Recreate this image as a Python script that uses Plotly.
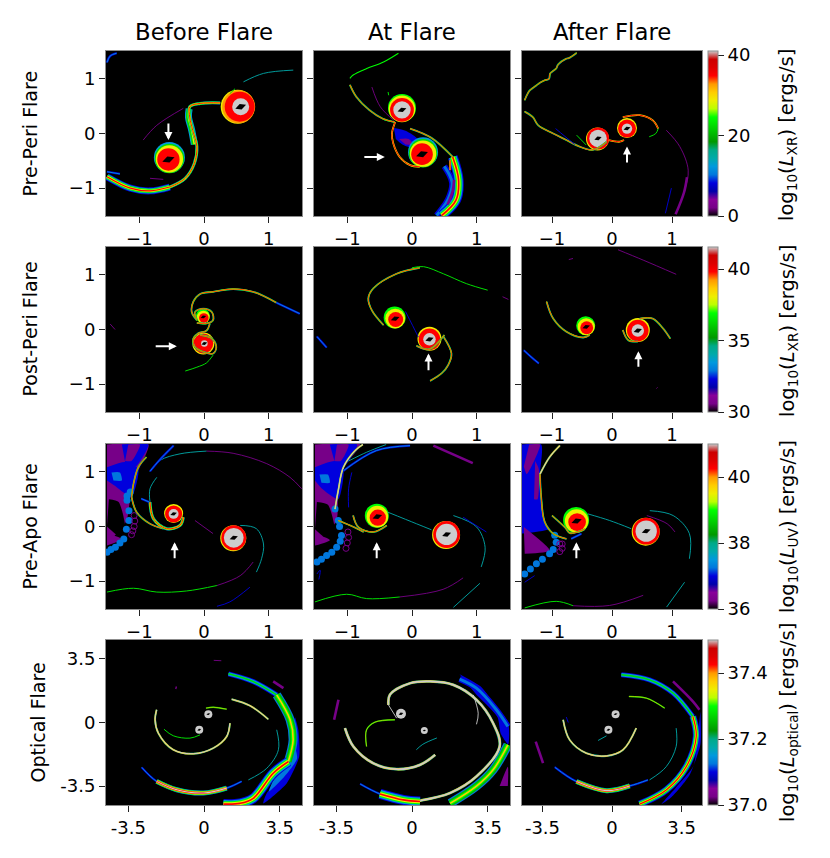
import plotly.graph_objects as go

W, H = 830, 858
FONT = "DejaVu Sans"

col_px = [(106, 302), (314, 510), (522, 702)]
row_px = [(51, 216), (247, 412), (444, 609), (640, 805)]
col_titles = ["Before Flare", "At Flare", "After Flare"]
row_titles = ["Pre-Peri Flare", "Post-Peri Flare", "Pre-Apo Flare", "Optical Flare"]
cbar_ranges = [(0, 41), (30, 41.55), (36, 41), (37, 37.5)]
cbar_ticks = [[0, 20, 40], [30, 35, 40], [36, 38, 40], [37.0, 37.2, 37.4]]
cbar_ticktext = [["0", "20", "40"], ["30", "35", "40"], ["36", "38", "40"], ["37.0", "37.2", "37.4"]]
cbar_names = ["XR", "XR", "UV", "optical"]

# nipy_spectral with the grey top
spectral = [
    (0.00, "#000000"), (0.05, "#770088"), (0.10, "#880099"), (0.15, "#0000aa"), (0.20, "#0000dd"),
    (0.25, "#0077dd"), (0.30, "#0099dd"), (0.35, "#00aaaa"), (0.40, "#00aa88"), (0.45, "#009900"),
    (0.50, "#00bb00"), (0.55, "#00dd00"), (0.60, "#00ff00"), (0.65, "#bbff00"), (0.70, "#eeee00"),
    (0.75, "#ffcc00"), (0.80, "#ff9900"), (0.85, "#ff0000"), (0.90, "#dd0000"), (0.95, "#cc0000"),
    (1.00, "#cccccc"),
]

def col(level):
    return min(spectral, key=lambda s: abs(s[0] - level))[1]

STYLES = {
    "pur": [(0.9, 0.07)],
    "purw": [(2.6, 0.07)],
    "blu": [(0.9, 0.2)],
    "bluw": [(2.2, 0.2), (0.9, 0.3)],
    "teal": [(0.9, 0.35)],
    "grn": [(1.0, 0.55)],
    "lim": [(1.1, 0.62)],
    "thin": [(1.3, 0.55), (0.6, 0.75)],
    "rb": [(1.8, 0.35), (1.4, 0.6), (1.0, 0.75), (0.6, 0.87)],
    "rbw": [(3.0, 0.3), (2.4, 0.58), (1.6, 0.72), (0.9, 0.87)],
    "red": [(1.8, 0.72), (1.0, 0.87)],
    "gry": [(1.9, 0.4), (1.5, 0.75), (1.0, 1.0)],
    "gryw": [(2.8, 0.35), (2.3, 0.75), (1.7, 1.0)],
    "gryt": [(0.9, 1.0)],
    "sband": [(7.0, 0.3), (5.0, 0.55), (1.6, 0.72)],
    "band": [(7.0, 0.2), (5.4, 0.35), (3.8, 0.58), (2.4, 0.72), (1.2, 0.87)],
    "bandw": [(10.0, 0.2), (8.0, 0.32), (5.8, 0.58), (3.6, 0.72), (1.6, 0.87)],
    "bandg": [(9.0, 0.25), (6.6, 0.5), (3.6, 0.62), (1.6, 0.75)],
    "bandb": [(5.0, 0.2), (3.4, 0.3), (1.4, 0.55)],
    "lowb": [(5.0, 0.3), (4.0, 0.58), (3.0, 0.75), (2.0, 0.87), (1.1, 1.0)],
    "blue": [(6.0, 0.2), (3.0, 0.27)],
}

DISKS_STYLE = {
    "hot": [(1.0, 0.72, -1, 0), (0.97, 0.8, 0, 0), (0.88, 0.87, 1, 0), (0.5, 1.0, 2, 0), (0.24, 0.0, 2, 0)],
    "cool": [(1.0, 0.3, 1, -1), (0.95, 0.55, 1, 0), (0.88, 0.72, 1, 0.5), (0.72, 0.87, 0, 1), (0.3, 0.0, 0, 1)],
    "ring": [(1.0, 0.72, -0.5, 0.5), (0.96, 0.87, 0, 0), (0.76, 1.0, 0, 0), (0.24, 0.0, 0, 0)],
    "top": [(1.0, 0.6, 0, -1), (0.95, 0.72, 0, 0), (0.85, 0.87, 0, 1), (0.62, 1.0, 0, 1), (0.24, 0.0, 0, 1)],
    "rain": [(1.0, 0.72, 0, -0.5), (0.9, 0.87, 0, 0), (0.52, 1.0, 0, 0), (0.26, 0.0, 0, 0)],
    "spin": [(1.0, 0.72, 0, 0), (0.9, 0.87, 0, 0), (0.3, 1.0, 1, 0), (0.2, 0.0, 1, 0)],
    "green": [(1.0, 0.6, -0.5, -1), (0.9, 0.72, 0, 0), (0.68, 0.87, 0.5, 1), (0.3, 0.0, 0, 0)],
    "opt": [(1.0, 1.0, 0, 0), (0.36, 0.0, 0, 0)],
}

# row 1, before flare
a11_s_x = [0.25, -0.06, -0.22, -0.22, -0.175, -0.11, -0.15, -0.29, -0.53]
a11_s_y = [0.56, 0.55, 0.49, 0.3, 0.06, -0.24, -0.55, -0.82, -0.98]
a11_bt_x = [-0.53, -0.835, -1.14, -1.5]
a11_bt_y = [-0.98, -1.05, -1.0, -0.79]
a11_sb_x = [-0.23, -0.24, -0.19, -0.15]
a11_sb_y = [0.45, 0.3, 0.06, -0.2]
a11_up_x = [0.4, 0.48]
a11_up_y = [0.73, 0.82]
a11_far_x = [0.61, 0.92, 1.38]
a11_far_y = [0.945, 1.1, 1.16]
a11_fa_x = [-0.94, -0.73, -0.32]
a11_fa_y = [-0.12, 0.15, 0.46]
a11_st_x = [-1.5, -1.3]
a11_st_y = [-0.7, -0.74]
a11_lo_x = [-0.835, -0.63]
a11_lo_y = [-0.82, -0.84]
a11_co_x = [-1.5, -1.45, -1.35]
a11_co_y = [1.3, 1.42, 1.47]

# row 1, at flare
a12_top_x = [-0.96, -0.91, -0.7, -0.44, -0.21]
a12_top_y = [1.01, 1.07, 1.19, 1.31, 1.47]
a12_arc_x = [-0.96, -0.86, -0.66, -0.45, -0.27]
a12_arc_y = [0.89, 0.67, 0.43, 0.27, 0.21]
a12_pu_x = [-0.62, -0.49, -0.28]
a12_pu_y = [0.85, 0.49, 0.24]
a12_gs_x = [-0.37, -0.36]
a12_gs_y = [0.76, 0.7]
a12_s_x = [-0.26, -0.31, -0.29, -0.19, -0.03, 0.12]
a12_s_y = [0.21, 0.0, -0.18, -0.43, -0.58, -0.61]
a12_up_x = [-0.03, 0.3, 0.63]
a12_up_y = [0.09, -0.08, -0.43]
a12_o_x = [0.63, 0.72, 0.68, 0.46]
a12_o_y = [-0.43, -0.85, -1.22, -1.5]
a12_i_x = [0.5, 0.62, 0.56, 0.38]
a12_i_y = [-0.6, -0.9, -1.2, -1.5]
a12_t_x = [0.59, 0.59]
a12_t_y = [-0.49, -0.67]
a12_p_x = [0.65, 0.63, 0.55]
a12_p_y = [-0.85, -1.05, -1.3]
f12_x = [-0.28, -0.1, 0.08, -0.02, -0.15, -0.25]
f12_y = [0.1, 0.05, -0.1, -0.25, -0.2, -0.1]
f12b_x = [-0.2, -0.05, 0.02, -0.1]
f12b_y = [-0.1, -0.1, -0.2, -0.2]

# row 1, after flare
a13_zz_x = [-1.456, -1.41, -1.37, -1.26, -1.2, -1.12, -1.05, -1.03, -0.93, -0.9, -0.76, -0.72, -0.59]
a13_zz_y = [0.61, 0.72, 0.79, 0.88, 0.93, 0.975, 1.0, 1.1, 1.19, 1.26, 1.37, 1.38, 1.475]
a13_ll_x = [-1.456, -1.32, -1.23, -0.98, -0.76, -0.54, -0.32, -0.09]
a13_ll_y = [0.4, 0.3, 0.15, 0.0, -0.12, -0.24, -0.3, -0.15]
a13_b1_x = [-0.94, -0.71, -0.62]
a13_b1_y = [0.09, -0.12, -0.2]
a13_g1_x = [-0.59, -0.43]
a13_g1_y = [-0.03, -0.21]
a13_br_x = [-0.055, 0.13, 0.2]
a13_br_y = [-0.12, -0.15, -0.12]
a13_lk_x = [0.18, 0.46, 0.68, 0.77]
a13_lk_y = [0.3, 0.335, 0.24, 0.09]
a13_sh_x = [0.77, 0.73, 0.62]
a13_sh_y = [0.09, -0.0, -0.06]
a13_ar_x = [0.905, 1.13, 1.27, 1.21, 1.07]
a13_ar_y = [0.06, -0.24, -0.67, -1.04, -1.46]
a13_w_x = [1.25, 1.2, 1.06]
a13_w_y = [-0.8, -1.08, -1.48]
a13_b2_x = [0.99, 0.89]
a13_b2_y = [-1.0, -1.46]

# row 2, before flare
a21_top_x = [1.12, 0.76, 0.45, 0.14, -0.06, -0.165, -0.19, -0.11]
a21_top_y = [0.49, 0.69, 0.74, 0.69, 0.65, 0.51, 0.32, 0.17]
a21_end_x = [1.48, 1.12]
a21_end_y = [0.29, 0.49]
a21_sp_x = [-0.11, -0.14, -0.01, 0.12, 0.14, 0.04, -0.11]
a21_sp_y = [0.17, 0.32, 0.38, 0.32, 0.17, 0.11, 0.12]
a21_fg_x = [0.09, 0.04, -0.09, -0.165, -0.14, -0.01, 0.14, 0.19, 0.12, -0.06]
a21_fg_y = [0.11, -0.02, -0.07, -0.165, -0.32, -0.41, -0.44, -0.32, -0.165, -0.1]
a21_tl_x = [0.14, 0.04, -0.11, -0.29]
a21_tl_y = [-0.47, -0.61, -0.69, -0.76]
a21_sm_x = [-1.45, -1.375]
a21_sm_y = [0.1, 0.0]

# row 2, at flare
a22_arc_x = [0.12, -0.24, -0.6, -0.675, -0.62, -0.44]
a22_arc_y = [1.13, 1.02, 0.75, 0.57, 0.35, 0.08]
a22_r_x = [0.0, 0.18, 0.485, 0.84, 1.17]
a22_r_y = [1.13, 1.15, 1.02, 0.84, 0.72]
a22_fa_x = [1.4, 1.49]
a22_fa_y = [0.6, 0.55]
a22_sm_x = [-1.47, -1.32]
a22_sm_y = [-0.13, -0.33]
a22_lk_x = [-0.1, 0.07, 0.1]
a22_lk_y = [0.33, -0.07, -0.14]
a22_tl_x = [0.485, 0.61, 0.56, 0.46, 0.28]
a22_tl_y = [-0.13, -0.44, -0.65, -0.8, -0.94]
a22_rc_x = [0.07, 0.27, 0.5]
a22_rc_y = [-0.3, -0.36, -0.1]

# row 2, after flare
a23_top_x = [0.1, 0.52, 1.07]
a23_top_y = [1.46, 1.27, 1.01]
a23_sm_x = [-0.72, -0.65]
a23_sm_y = [1.28, 1.3]
a23_arc_x = [-1.09, -0.98, -0.76, -0.48, -0.37]
a23_arc_y = [0.51, 0.2, -0.04, -0.146, -0.1]
a23_w_x = [-1.47, -1.35, -1.22]
a23_w_y = [-0.38, -0.5, -0.62]
a23_tl_x = [0.18, 0.27, 0.43]
a23_tl_y = [-0.01, -0.195, -0.22]
a23_ac_x = [0.46, 0.68, 0.85, 0.97]
a23_ac_y = [0.2, 0.2, 0.02, -0.165]
a23_dt_x = [0.74, 0.76]
a23_dt_y = [-1.08, -1.06]

# row 3, before flare
f31a_x = [-1.5, -0.86, -1.09, -1.14, -1.2, -1.5]
f31a_y = [1.5, 1.5, 0.84, 0.54, 0.1, -0.32]
f31b_x = [-1.5, -1.22, -1.015, -1.12, -1.35, -1.5]
f31b_y = [1.085, 1.18, 1.055, 0.54, 0.72, 0.84]
f31c_x = [-1.27, -0.86, -1.07, -1.22]
f31c_y = [1.5, 1.5, 1.085, 1.18]
f31d_x = [-1.17, -0.99, -1.12, -1.22]
f31d_y = [1.5, 1.5, 1.2, 1.2]
f31e_x = [-1.43, -1.3, -1.27, -1.4]
f31e_y = [0.99, 0.99, 0.84, 0.84]
f31f_x = [-1.47, -1.32, -1.22, -1.28, -1.5]
f31f_y = [0.5, 0.45, 0.0, -0.2, 0.0]
f31g_x = [-1.5, -1.27, -1.5]
f31g_y = [-0.13, -0.23, -0.35]
b31_x = [-1.5, -1.44, -1.37, -1.3, -1.24, -1.2, -1.16, -1.16, -1.19, -1.19, -1.14]
b31_y = [-0.47, -0.42, -0.38, -0.3, -0.23, -0.05, 0.11, 0.29, 0.48, 0.56, 0.63]
r31_x = [-1.08, -1.07, -1.08, -1.1, -1.12]
r31_y = [0.2, 0.1, 0.0, -0.08, -0.15]
a31_ed_x = [-1.12, -1.09, -1.015, -0.89]
a31_ed_y = [0.54, 0.78, 1.085, 1.27]
a31_tp_x = [-0.835, -0.68, -0.37, 0.04]
a31_tp_y = [1.01, 1.21, 1.33, 1.38]
a31_tr_x = [0.04, 0.45, 0.97, 1.33, 1.51]
a31_tr_y = [1.38, 1.34, 1.15, 0.9, 0.69]
a31_wd_x = [-0.835, -0.7, -0.47]
a31_wd_y = [1.01, 1.2, 1.48]
a31_lo_x = [-1.12, -1.04, -0.835, -0.63]
a31_lo_y = [0.54, 0.26, 0.05, -0.04]
a31_sp_x = [-0.835, -0.78, -0.58, -0.37, -0.32]
a31_sp_y = [0.445, 0.14, -0.04, 0.02, 0.17]
a31_sb_x = [-0.73, -0.835, -0.835]
a31_sb_y = [0.9, 0.69, 0.445]
a31_sm_x = [-0.97, -0.85]
a31_sm_y = [0.51, 0.45]
a31_lk_x = [-0.14, 0.14]
a31_lk_y = [0.11, -0.13]
a31_dk_x = [0.56, 0.81, 0.92, 0.89, 0.81]
a31_dk_y = [0.02, -0.04, -0.32, -0.59, -0.835]
a31_bt_x = [-1.5, -1.09, -0.73, -0.27, 0.2]
a31_bt_y = [-1.2, -1.13, -1.2, -1.18, -1.08]
a31_bp_x = [0.2, 0.56, 0.76]
a31_bp_y = [-1.08, -0.9, -0.65]
a31_b2_x = [0.2, 0.4, 0.71]
a31_b2_y = [-1.46, -1.38, -1.11]

# row 3, at flare
f32a_x = [-1.5, -0.8, -1.06, -1.14, -1.17, -1.5]
f32a_y = [1.5, 1.5, 1.085, 0.66, 0.1, -0.32]
f32b_x = [-1.5, -1.2, -1.06, -1.14, -1.4, -1.5]
f32b_y = [1.085, 1.2, 1.085, 0.5, 0.7, 0.84]
f32c_x = [-1.27, -0.85, -1.06, -1.2]
f32c_y = [1.5, 1.5, 1.085, 1.2]
f32d_x = [-1.16, -0.98, -1.1, -1.2]
f32d_y = [1.5, 1.5, 1.2, 1.2]
f32e_x = [-1.43, -1.3, -1.27, -1.4]
f32e_y = [0.95, 0.95, 0.8, 0.8]
f32f_x = [-1.47, -1.3, -1.2, -1.28, -1.5]
f32f_y = [0.45, 0.4, -0.02, -0.25, -0.05]
f32g_x = [-1.5, -1.27, -1.5]
f32g_y = [-0.13, -0.25, -0.35]
b32_x = [-1.47, -1.4, -1.32, -1.24, -1.165, -1.11, -1.09, -1.12, -1.14, -1.19]
b32_y = [-0.65, -0.6, -0.53, -0.47, -0.38, -0.27, -0.165, 0.0, 0.11, 0.32]
r32_x = [-0.99, -0.98, -1.0, -1.02]
r32_y = [-0.1, -0.2, -0.3, -0.4]
a32_ed_x = [-1.19, -1.14, -1.06, -0.88, -0.76]
a32_ed_y = [0.32, 0.66, 1.085, 1.39, 1.5]
a32_st_x = [-1.06, -0.55, -0.03]
a32_st_y = [1.02, 1.39, 1.48]
a32_st2_x = [-0.98, -0.7, -0.4]
a32_st2_y = [1.2, 1.36, 1.5]
a32_lo_x = [-1.14, -0.9, -0.75]
a32_lo_y = [0.11, -0.01, -0.1]
a32_sp_x = [-0.91, -0.83, -0.6, -0.39]
a32_sp_y = [0.2, -0.01, -0.1, 0.02]
a32_bl_x = [-0.93, -0.98, -0.98]
a32_bl_y = [0.99, 0.69, 0.35]
a32_sm_x = [-1.47, -1.42, -1.44]
a32_sm_y = [-0.87, -0.8, -0.97]
a32_bt_x = [-1.5, -1.01, -0.7, -0.19]
a32_bt_y = [-1.38, -1.24, -1.32, -1.29]
a32_bp_x = [-0.19, 0.48, 0.79]
a32_bp_y = [-1.29, -1.15, -0.94]
a32_tp_x = [0.33, 0.94]
a32_tp_y = [1.48, 1.16]
a32_lk_x = [-0.37, 0.07, 0.3]
a32_lk_y = [0.26, 0.05, -0.06]
a32_d1_x = [0.64, 1.0, 1.13, 1.07]
a32_d1_y = [0.2, -0.01, -0.38, -0.74]
a32_d2_x = [0.79, 1.15]
a32_d2_y = [0.17, -0.1]
a32_br_x = [0.64, 1.05]
a32_br_y = [-1.48, -1.04]

# row 3, after flare
f33a_x = [-1.5, -1.18, -1.2, -1.18, -1.12, -1.04, -1.5]
f33a_y = [1.5, 1.5, 0.96, 0.54, 0.08, -0.04, -0.13]
f33b_x = [-1.38, -1.2, -1.42, -1.47]
f33b_y = [1.5, 1.5, 0.96, 1.1]
f33c_x = [-1.28, -1.22, -1.24, -1.3]
f33c_y = [1.2, 1.05, 0.5, 0.5]
f33d_x = [-1.47, -1.04, -1.455]
f33d_y = [-0.01, -0.44, -0.5]
b33_x = [-1.455, -1.36, -1.26, -1.16, -1.04, -0.98, -0.93, -0.955]
b33_y = [-0.87, -0.78, -0.68, -0.6, -0.5, -0.42, -0.29, -0.16]
r33_x = [-0.83, -0.83, -0.87, -0.87]
r33_y = [-0.32, -0.4, -0.32, -0.46]
a33_gr_x = [-1.2, -1.04, -0.87]
a33_gr_y = [0.96, 1.27, 1.48]
a33_ed_x = [-1.2, -1.18, -1.12, -0.98, -0.76]
a33_ed_y = [0.96, 0.54, 0.08, -0.13, -0.226]
a33_lk_x = [-0.4, -0.04, 0.32]
a33_lk_y = [0.23, 0.11, -0.04]
a33_bt_x = [-1.455, -0.93, -0.65]
a33_bt_y = [-1.49, -1.37, -1.45]
a33_bp_x = [-0.65, -0.04, 0.52]
a33_bp_y = [-1.45, -1.445, -1.26]
a33_d1_x = [0.63, 1.02, 1.29, 1.29]
a33_d1_y = [0.29, 0.2, -0.13, -0.59]
a33_d2_x = [0.58, 0.92, 1.05]
a33_d2_y = [0.2, 0.05, -0.1]
a33_br_x = [0.91, 1.21]
a33_br_y = [-1.475, -1.02]
a33_ll_x = [-1.455, -1.29]
a33_ll_y = [-1.02, -0.9]
a33_us_x = [-0.68, -0.51]
a33_us_y = [-0.226, -0.134]
a33_hs_x = [-1.0, -0.78, -0.7, -0.45]
a33_hs_y = [0.2, -0.02, -0.12, -0.05]

# row 4, before flare
a41_sh_x = [0.09, 0.43, 1.05]
a41_sh_y = [0.79, 0.84, 0.73]
a41_in_x = [1.2, 1.05, 0.43, -0.49, -1.42, -2.11, -2.26, -2.19]
a41_in_y = [-0.04, -0.77, -1.41, -1.72, -1.5, -0.59, 0.15, 0.7]
a41_i2_x = [-1.85, -1.42, -0.65, -0.185]
a41_i2_y = [-0.37, -0.73, -0.86, -0.68]
a41_lo_x = [-2.88, -2.19, -1.26, -0.03, 1.05, 1.74]
a41_lo_y = [-2.47, -3.24, -3.7, -3.88, -3.61, -3.24]
a41_lc_x = [-2.19, -1.26, -0.03, 1.05]
a41_lc_y = [-3.24, -3.7, -3.88, -3.61]
a41_md_x = [1.28, 2.13, 2.97]
a41_md_y = [1.28, 0.92, 0.18]
a41_ou_x = [1.13, 2.28, 3.36]
a41_ou_y = [2.68, 2.25, 1.52]
a41_ov_x = [3.36, 3.98, 4.12, 3.9]
a41_ov_y = [1.52, 0.15, -0.95, -2.15]
a41_bb_x = [3.9, 3.2, 2.28, 1.66, 0.9]
a41_bb_y = [-2.15, -2.79, -4.17, -4.45, -4.49]
a41_tn_x = [2.05, 2.9, 3.44, 3.36]
a41_tn_y = [-3.16, -2.52, -1.5, -0.4]
a41_p1_x = [3.2, 3.67]
a41_p1_y = [2.26, 1.89]
a41_p2_x = [0.45, 0.8]
a41_p2_y = [3.42, 3.4]
a41_p3_x = [-1.32, -1.26]
a41_p3_y = [1.92, 1.9]
f41a_x = [4.21, 4.36, 4.4, 3.82, 2.74, 2.9, 3.82, 4.13, 4.13]
f41a_y = [0.29, -0.4, -1.87, -3.35, -4.45, -3.9, -2.6, -1.14, -0.04]
f41b_x = [4.2, 4.3, 3.7, 3.0, 3.2, 3.9]
f41b_y = [-1.3, -2.0, -3.0, -3.8, -3.2, -2.4]

# row 4, at flare
a42_wh_x = [-1.09, -1.02, -0.09, 0.84, 1.91, 2.98, 3.75, 4.05, 2.98, 1.76, 0.38, -0.4]
a42_wh_y = [0.97, 1.53, 2.16, 2.26, 2.07, 1.25, -0.04, -1.32, -2.97, -3.88, -4.3, -4.4]
a42_in_x = [2.83, 3.06, 2.98]
a42_in_y = [1.52, 0.51, -0.1]
a42_sh_x = [-1.09, -0.71]
a42_sh_y = [0.97, 0.24]
a42_md_x = [-3.1, -2.71, -1.79, -0.71, 0.37, 1.07]
a42_md_y = [-0.31, -1.32, -2.24, -2.57, -2.33, -1.78]
a42_tn_x = [-2.1, -2.1, -1.71, -0.79]
a42_tn_y = [-1.32, -0.4, 0.02, 0.15]
a42_lp_x = [-3.4, -3.6]
a42_lp_y = [1.25, 0.15]
a42_lo_x = [-2.4, -1.48, -0.4, 0.37]
a42_lo_y = [-3.38, -3.93, -4.26, -4.35]
a42_lc_x = [-1.48, -0.4, 0.37]
a42_lc_y = [-3.93, -4.26, -4.35]
a42_ob_x = [2.2, 2.98, 3.9, 4.43]
a42_ob_y = [2.39, 1.89, 0.7, -0.22]
a42_og_x = [4.43, 3.75, 2.98, 1.76]
a42_og_y = [-1.23, -2.6, -3.5, -4.45]
a42_st_x = [1.15, 0.5, 0.2]
a42_st_y = [-0.85, -1.2, -1.5]
f42a_x = [4.05, 4.43, 4.43]
f42a_y = [-3.5, -2.43, -3.5]
f42b_x = [2.2, 3.2, 3.8, 4.45, 4.45, 4.1, 3.95, 3.0]
f42b_y = [2.65, 1.95, 1.0, 0.0, -1.2, -0.6, 0.3, 1.5]

# row 4, after flare
a43_in_x = [-2.46, -2.13, -1.29, -0.28, 0.55, 1.22]
a43_in_y = [0.15, -0.96, -1.69, -1.84, -1.51, -0.31]
a43_is_x = [-0.7, -0.28]
a43_is_y = [-0.99, -0.735]
a43_lo_x = [-2.88, -1.79, -0.28, 0.89, 1.81]
a43_lo_y = [-2.46, -3.25, -3.75, -3.49, -3.16]
a43_lc_x = [-1.79, -0.28, 0.89]
a43_lc_y = [-3.25, -3.75, -3.49]
a43_md_x = [0.85, 1.73, 2.65]
a43_md_y = [1.43, 1.34, 0.79]
a43_ou_x = [0.47, 1.89, 3.07, 4.07]
a43_ou_y = [2.63, 2.35, 1.62, 0.33]
a43_ov_x = [4.07, 4.24, 3.74, 2.73, 1.39]
a43_ov_y = [0.33, -0.77, -2.43, -3.71, -4.49]
a43_pp_x = [3.07, 4.07, 4.4]
a43_pp_y = [2.26, 1.16, 0.7]
a43_lp_x = [-3.84, -3.47]
a43_lp_y = [-1.05, -2.24]
a43_tn_x = [3.23, 3.23, 2.73, 1.89]
a43_tn_y = [-0.31, -1.32, -2.43, -3.16]
a43_sp_x = [-2.3, -2.2]
a43_sp_y = [0.3, 0.0]
f43a_x = [4.45, 4.45, 3.9, 3.0, 2.5, 3.2, 4.1, 4.3]
f43a_y = [0.6, -1.2, -2.9, -4.1, -4.48, -3.6, -2.4, -0.9]

FILLS = [
    (1, 2, f12_x, f12_y, 0.2), (1, 2, f12b_x, f12b_y, 0.07),
    (3, 1, f31a_x, f31a_y, 0.07), (3, 1, f31b_x, f31b_y, 0.2), (3, 1, f31c_x, f31c_y, 0.2),
    (3, 1, f31d_x, f31d_y, 0.07), (3, 1, f31e_x, f31e_y, 0.27), (3, 1, f31f_x, f31f_y, 0.0),
    (3, 1, f31g_x, f31g_y, 0.07),
    (3, 2, f32a_x, f32a_y, 0.07), (3, 2, f32b_x, f32b_y, 0.2), (3, 2, f32c_x, f32c_y, 0.2),
    (3, 2, f32d_x, f32d_y, 0.07), (3, 2, f32e_x, f32e_y, 0.27), (3, 2, f32f_x, f32f_y, 0.0),
    (3, 2, f32g_x, f32g_y, 0.07),
    (3, 3, f33a_x, f33a_y, 0.2), (3, 3, f33b_x, f33b_y, 0.07), (3, 3, f33c_x, f33c_y, 0.07),
    (3, 3, f33d_x, f33d_y, 0.07),
    (4, 1, f41a_x, f41a_y, 0.2), (4, 1, f41b_x, f41b_y, 0.27),
    (4, 2, f42a_x, f42a_y, 0.07), (4, 2, f42b_x, f42b_y, 0.2),
    (4, 3, f43a_x, f43a_y, 0.2),
]

ARMS = [
    (1, 1, a11_sb_x, a11_sb_y, "sband"), (1, 1, a11_s_x, a11_s_y, "rbw"), (1, 1, a11_bt_x, a11_bt_y, "band"),
    (1, 1, a11_up_x, a11_up_y, "grn"), (1, 1, a11_far_x, a11_far_y, "teal"), (1, 1, a11_fa_x, a11_fa_y, "pur"),
    (1, 1, a11_st_x, a11_st_y, "bluw"), (1, 1, a11_lo_x, a11_lo_y, "pur"), (1, 1, a11_co_x, a11_co_y, "bluw"),
    (1, 2, a12_top_x, a12_top_y, "lim"), (1, 2, a12_arc_x, a12_arc_y, "rb"), (1, 2, a12_pu_x, a12_pu_y, "pur"),
    (1, 2, a12_gs_x, a12_gs_y, "grn"), (1, 2, a12_s_x, a12_s_y, "red"), (1, 2, a12_i_x, a12_i_y, "blue"),
    (1, 2, a12_up_x, a12_up_y, "rb"), (1, 2, a12_o_x, a12_o_y, "bandw"), (1, 2, a12_t_x, a12_t_y, "red"),
    (1, 2, a12_p_x, a12_p_y, "purw"),
    (1, 3, a13_zz_x, a13_zz_y, "rb"), (1, 3, a13_ll_x, a13_ll_y, "rb"), (1, 3, a13_b1_x, a13_b1_y, "blu"),
    (1, 3, a13_g1_x, a13_g1_y, "grn"), (1, 3, a13_br_x, a13_br_y, "red"), (1, 3, a13_lk_x, a13_lk_y, "red"),
    (1, 3, a13_sh_x, a13_sh_y, "grn"), (1, 3, a13_ar_x, a13_ar_y, "pur"), (1, 3, a13_w_x, a13_w_y, "purw"),
    (1, 3, a13_b2_x, a13_b2_y, "blu"),
    (2, 1, a21_top_x, a21_top_y, "rb"), (2, 1, a21_end_x, a21_end_y, "bluw"), (2, 1, a21_sp_x, a21_sp_y, "rb"),
    (2, 1, a21_fg_x, a21_fg_y, "rb"), (2, 1, a21_tl_x, a21_tl_y, "grn"), (2, 1, a21_sm_x, a21_sm_y, "pur"),
    (2, 2, a22_arc_x, a22_arc_y, "rb"), (2, 2, a22_r_x, a22_r_y, "grn"), (2, 2, a22_fa_x, a22_fa_y, "pur"),
    (2, 2, a22_sm_x, a22_sm_y, "bluw"), (2, 2, a22_lk_x, a22_lk_y, "blu"), (2, 2, a22_tl_x, a22_tl_y, "rb"),
    (2, 2, a22_rc_x, a22_rc_y, "rb"),
    (2, 3, a23_top_x, a23_top_y, "pur"), (2, 3, a23_sm_x, a23_sm_y, "pur"), (2, 3, a23_arc_x, a23_arc_y, "rb"),
    (2, 3, a23_w_x, a23_w_y, "bluw"), (2, 3, a23_tl_x, a23_tl_y, "rb"), (2, 3, a23_ac_x, a23_ac_y, "rb"),
    (2, 3, a23_dt_x, a23_dt_y, "pur"),
    (3, 1, a31_ed_x, a31_ed_y, "rb"), (3, 1, a31_tp_x, a31_tp_y, "teal"), (3, 1, a31_tr_x, a31_tr_y, "pur"),
    (3, 1, a31_wd_x, a31_wd_y, "bluw"), (3, 1, a31_lo_x, a31_lo_y, "rb"), (3, 1, a31_sp_x, a31_sp_y, "rbw"),
    (3, 1, a31_sb_x, a31_sb_y, "teal"), (3, 1, a31_sm_x, a31_sm_y, "bluw"), (3, 1, a31_lk_x, a31_lk_y, "pur"),
    (3, 1, a31_dk_x, a31_dk_y, "teal"), (3, 1, a31_bt_x, a31_bt_y, "grn"), (3, 1, a31_bp_x, a31_bp_y, "pur"),
    (3, 1, a31_b2_x, a31_b2_y, "blu"),
    (3, 2, a32_ed_x, a32_ed_y, "gry"), (3, 2, a32_st_x, a32_st_y, "bluw"), (3, 2, a32_st2_x, a32_st2_y, "teal"),
    (3, 2, a32_lo_x, a32_lo_y, "rb"), (3, 2, a32_sp_x, a32_sp_y, "rb"), (3, 2, a32_bl_x, a32_bl_y, "blu"),
    (3, 2, a32_sm_x, a32_sm_y, "blu"), (3, 2, a32_bt_x, a32_bt_y, "grn"), (3, 2, a32_bp_x, a32_bp_y, "pur"),
    (3, 2, a32_tp_x, a32_tp_y, "purw"), (3, 2, a32_lk_x, a32_lk_y, "teal"), (3, 2, a32_d1_x, a32_d1_y, "teal"),
    (3, 2, a32_d2_x, a32_d2_y, "blu"), (3, 2, a32_br_x, a32_br_y, "teal"),
    (3, 3, a33_gr_x, a33_gr_y, "gry"), (3, 3, a33_ed_x, a33_ed_y, "rb"), (3, 3, a33_hs_x, a33_hs_y, "rb"),
    (3, 3, a33_lk_x, a33_lk_y, "teal"), (3, 3, a33_bt_x, a33_bt_y, "grn"), (3, 3, a33_bp_x, a33_bp_y, "pur"),
    (3, 3, a33_d1_x, a33_d1_y, "teal"), (3, 3, a33_d2_x, a33_d2_y, "pur"), (3, 3, a33_br_x, a33_br_y, "teal"),
    (3, 3, a33_ll_x, a33_ll_y, "blu"), (3, 3, a33_us_x, a33_us_y, "bluw"),
    (4, 1, a41_sh_x, a41_sh_y, "thin"), (4, 1, a41_in_x, a41_in_y, "gry"), (4, 1, a41_i2_x, a41_i2_y, "grn"),
    (4, 1, a41_lo_x, a41_lo_y, "bluw"), (4, 1, a41_lc_x, a41_lc_y, "lowb"), (4, 1, a41_md_x, a41_md_y, "gry"),
    (4, 1, a41_ou_x, a41_ou_y, "bandb"), (4, 1, a41_ov_x, a41_ov_y, "bandg"), (4, 1, a41_bb_x, a41_bb_y, "bandw"),
    (4, 1, a41_tn_x, a41_tn_y, "teal"), (4, 1, a41_p1_x, a41_p1_y, "purw"), (4, 1, a41_p2_x, a41_p2_y, "pur"),
    (4, 1, a41_p3_x, a41_p3_y, "purw"),
    (4, 2, a42_ob_x, a42_ob_y, "blue"), (4, 2, a42_og_x, a42_og_y, "bandg"), (4, 2, a42_wh_x, a42_wh_y, "gryw"),
    (4, 2, a42_in_x, a42_in_y, "gryt"), (4, 2, a42_sh_x, a42_sh_y, "gryt"), (4, 2, a42_md_x, a42_md_y, "gryw"),
    (4, 2, a42_tn_x, a42_tn_y, "thin"), (4, 2, a42_lp_x, a42_lp_y, "purw"), (4, 2, a42_lo_x, a42_lo_y, "bluw"),
    (4, 2, a42_lc_x, a42_lc_y, "bandw"), (4, 2, a42_st_x, a42_st_y, "teal"),
    (4, 3, a43_in_x, a43_in_y, "gry"), (4, 3, a43_is_x, a43_is_y, "teal"), (4, 3, a43_lo_x, a43_lo_y, "bluw"),
    (4, 3, a43_lc_x, a43_lc_y, "lowb"), (4, 3, a43_md_x, a43_md_y, "thin"), (4, 3, a43_ou_x, a43_ou_y, "bandb"),
    (4, 3, a43_ov_x, a43_ov_y, "band"), (4, 3, a43_pp_x, a43_pp_y, "purw"), (4, 3, a43_lp_x, a43_lp_y, "purw"),
    (4, 3, a43_tn_x, a43_tn_y, "teal"), (4, 3, a43_sp_x, a43_sp_y, "blu"),
]

BEADS = [(3, 1, b31_x, b31_y), (3, 2, b32_x, b32_y), (3, 3, b33_x, b33_y)]
RINGS = [(3, 1, r31_x, r31_y), (3, 2, r32_x, r32_y), (3, 3, r33_x, r33_y)]

# row, col, x, y, recipe, size in px
DISKS = [
    (1, 1, 0.536, 0.49, "hot", 34), (1, 1, -0.55, -0.457, "cool", 31),
    (1, 2, -0.155, 0.45, "top", 28), (1, 2, 0.155, -0.36, "cool", 30),
    (1, 3, -0.233, -0.09, "ring", 23), (1, 3, 0.25, 0.09, "rain", 20),
    (2, 1, -0.01, 0.23, "green", 14), (2, 1, -0.01, -0.256, "spin", 22),
    (2, 2, -0.26, 0.2, "green", 22), (2, 2, 0.27, -0.18, "rain", 24),
    (2, 3, -0.43, 0.05, "green", 19), (2, 3, 0.43, -0.02, "rain", 24),
    (3, 1, -0.47, 0.23, "rain", 19), (3, 1, 0.46, -0.207, "ring", 26),
    (3, 2, -0.536, 0.18, "green", 24), (3, 2, 0.535, -0.146, "ring", 28),
    (3, 3, -0.59, 0.1, "green", 26), (3, 3, 0.57, -0.085, "ring", 28),
    (4, 1, 0.2, 0.46, "opt", 8), (4, 1, -0.22, -0.4, "opt", 8),
    (4, 2, -0.51, 0.48, "opt", 10), (4, 2, 0.57, -0.44, "opt", 7),
    (4, 3, 0.18, 0.46, "opt", 8), (4, 3, -0.18, -0.4, "opt", 8),
]

# row, col, tail x, tail y, head x, head y
ARROWS = [
    (1, 1, -0.55, 0.21, -0.55, -0.12), (1, 2, -0.76, -0.43, -0.42, -0.43), (1, 3, 0.25, -0.56, 0.25, -0.24),
    (2, 1, -0.77, -0.305, -0.42, -0.305), (2, 2, 0.255, -0.775, 0.255, -0.44), (2, 3, 0.44, -0.71, 0.44, -0.4),
    (3, 1, -0.454, -0.61, -0.454, -0.287), (3, 2, -0.546, -0.61, -0.546, -0.287), (3, 3, -0.594, -0.61, -0.594, -0.287),
]

def ax_id(r, c):
    return (r - 1) * 3 + c

def refs(r, c):
    n = ax_id(r, c)
    return f"x{n}", f"y{n}"

fig = go.Figure()
layout = {}

for r, (top, bot) in enumerate(row_px, 1):
    for c, (left, right) in enumerate(col_px, 1):
        n = ax_id(r, c)
        if r == 4:
            x_range, y_range = [-4.53, 4.53], [-4.54, 4.54]
            x_tick = dict(tickvals=[-3.5, 0, 3.5], ticktext=["-3.5", "0", "3.5"])
            y_tick = dict(tickvals=[-3.5, 0, 3.5], ticktext=["-3.5", "0", "3.5"])
        else:
            x_range, y_range = [-1.515, 1.515], [-1.51, 1.51]
            if c == 3:
                x_range = [-1.5, 1.5]
            x_tick = dict(tickvals=[-1, 0, 1])
            y_tick = dict(tickvals=[-1, 0, 1])
        common = dict(showgrid=False, zeroline=False, showline=True, mirror=True, linecolor="#8c8c8c",
                      linewidth=1, ticks="outside", ticklen=6, tickwidth=1, tickcolor="#222222",
                      tickfont=dict(family=FONT, size=18, color="black"))
        layout[f"xaxis{n}"] = dict(domain=[left / W, right / W], range=x_range, anchor=f"y{n}", **x_tick, **common)
        layout[f"yaxis{n}"] = dict(domain=[1 - bot / H, 1 - top / H], range=y_range, anchor=f"x{n}",
                                   showticklabels=c == 1, **y_tick, **common)

# colorbars, one per row
for i, (top, bot) in enumerate(row_px):
    lo, hi = cbar_ranges[i]
    xr, yr = refs(i + 1, 3)
    fig.add_trace(go.Scatter(
        x=[None, None], y=[None, None], xaxis=xr, yaxis=yr, mode="markers", showlegend=False, hoverinfo="skip",
        marker=dict(color=[lo, hi], cmin=lo, cmax=hi, colorscale=[list(s) for s in spectral], showscale=True,
                    colorbar=dict(x=708 / W, xanchor="left", xpad=0, ypad=0, y=1 - (top + bot) / 2 / H,
                                  yanchor="middle", len=(bot - top) / H, lenmode="fraction", thickness=10,
                                  thicknessmode="pixels", outlinewidth=1, outlinecolor="#8c8c8c", ticks="outside",
                                  ticklen=6, tickwidth=1, tickcolor="#222222", tickvals=cbar_ticks[i],
                                  ticktext=cbar_ticktext[i], tickfont=dict(family=FONT, size=18, color="black"))),
    ))

for r, c, x, y, level in FILLS:
    xr, yr = refs(r, c)
    fig.add_trace(go.Scatter(x=x, y=y, xaxis=xr, yaxis=yr, mode="lines", fill="toself", fillcolor=col(level),
                             line=dict(width=0, shape="spline", smoothing=0.6), showlegend=False, hoverinfo="skip"))

for r, c, x, y in BEADS:
    xr, yr = refs(r, c)
    fig.add_trace(go.Scatter(x=x, y=y, xaxis=xr, yaxis=yr, mode="markers", showlegend=False, hoverinfo="skip",
                             marker=dict(size=7, color=col(0.27), line=dict(width=0))))

for r, c, x, y in RINGS:
    xr, yr = refs(r, c)
    fig.add_trace(go.Scatter(x=x, y=y, xaxis=xr, yaxis=yr, mode="markers", showlegend=False, hoverinfo="skip",
                             marker=dict(size=6, color="rgba(0,0,0,0)", line=dict(width=1, color=col(0.07)))))

for r, c, x, y, recipe, size in DISKS:
    xr, yr = refs(r, c)
    left, right = col_px[c - 1]
    top, bot = row_px[r - 1]
    per_x = layout[f"xaxis{ax_id(r, c)}"]["range"][1] * 2 / (right - left)
    per_y = layout[f"yaxis{ax_id(r, c)}"]["range"][1] * 2 / (bot - top)
    for rel, level, off_x, off_y in DISKS_STYLE[recipe]:
        symbol = "diamond-wide" if level == 0.0 else "circle"
        fig.add_trace(go.Scatter(x=[x + off_x * per_x], y=[y - off_y * per_y], xaxis=xr, yaxis=yr, mode="markers",
                                 showlegend=False, hoverinfo="skip",
                                 marker=dict(size=size * rel, color=col(level), symbol=symbol, angle=-20,
                                             line=dict(width=0))))

for r, c, x, y, style in ARMS:
    xr, yr = refs(r, c)
    for width, level in STYLES[style]:
        fig.add_trace(go.Scatter(x=x, y=y, xaxis=xr, yaxis=yr, mode="lines", showlegend=False, hoverinfo="skip",
                                 line=dict(width=width, color=col(level), shape="spline", smoothing=1)))

notes = []
for c, title in enumerate(col_titles):
    left, right = col_px[c]
    notes.append(dict(text=title, xref="paper", yref="paper", x=(left + right) / 2 / W, y=1 - 32 / H, showarrow=False,
                      xanchor="center", yanchor="middle", font=dict(family=FONT, size=22.8, color="black")))
for r, title in enumerate(row_titles):
    top, bot = row_px[r]
    notes.append(dict(text=title, xref="paper", yref="paper", x=(37 if r == 3 else 29) / W, y=1 - (top + bot) / 2 / H,
                      xanchor="center", yanchor="middle", textangle=-90, showarrow=False,
                      font=dict(family=FONT, size=19, color="black")))
cbar_label_y = [135, 331, 527, 723]
for r, name in enumerate(cbar_names):
    notes.append(dict(text=f"log<sub>10</sub>(<i>L</i><sub>{name}</sub>) [ergs/s]", xref="paper", yref="paper",
                      x=788 / W, y=1 - cbar_label_y[r] / H, xanchor="center", yanchor="middle", textangle=-90,
                      showarrow=False, font=dict(family=FONT, size=19.5, color="black")))
for r, c, x0, y0, x1, y1 in ARROWS:
    xr, yr = refs(r, c)
    notes.append(dict(x=x1, y=y1, ax=x0, ay=y0, xref=xr, yref=yr, axref=xr, ayref=yr, text="", showarrow=True,
                      arrowhead=2, arrowsize=0.8, arrowwidth=2, arrowcolor="white"))

fig.update_layout(width=W, height=H, margin=dict(l=0, r=0, t=0, b=0), paper_bgcolor="white", plot_bgcolor="black",
                  showlegend=False, annotations=notes, **layout)

fig.write_html("out.html", config={"displayModeBar": False}, post_script="document.body.style.margin='0';")
